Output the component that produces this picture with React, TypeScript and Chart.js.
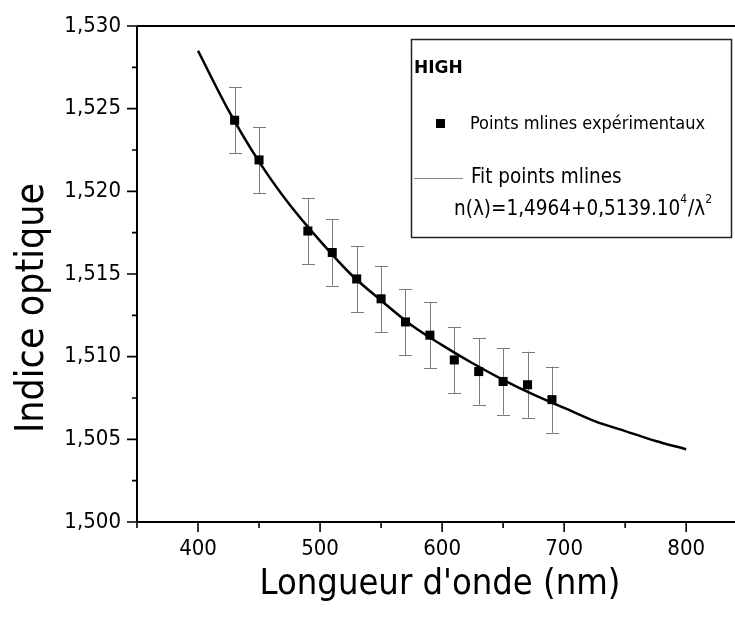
import React, { useEffect, useRef } from "react";
import { Chart, registerables } from "chart.js";

Chart.register(...registerables);

// Experimental points (wavelength nm, optical index, error)
const wavelengths = [430, 450, 490, 510, 530, 550, 570, 590, 610, 630, 650, 670, 690];
const indices = [1.5243, 1.5219, 1.5176, 1.5163, 1.5147, 1.5135, 1.5121, 1.5113, 1.5098, 1.5091, 1.5085, 1.5083, 1.5074];
const errors = [0.002, 0.002, 0.002, 0.002, 0.002, 0.002, 0.002, 0.002, 0.002, 0.002, 0.002, 0.002, 0.002];

// Fit curve
const fitWavelengths = [400, 425, 450, 475, 500, 525, 550, 575, 600, 625, 650, 675, 700, 725, 750, 775, 800];
const fitIndices = [1.5285, 1.5249, 1.5218, 1.5192, 1.517, 1.515, 1.5134, 1.5119, 1.5107, 1.5096, 1.5086, 1.5077, 1.5069, 1.5061, 1.5055, 1.5049, 1.5044];

// Axis ticks
const xMajorTicks = [400, 500, 600, 700, 800];
const xMinorTicks = [350, 450, 550, 650, 750];
const yMajorTicks = [1.5, 1.505, 1.51, 1.515, 1.52, 1.525, 1.53];
const yMinorTicks = [1.5025, 1.5075, 1.5125, 1.5175, 1.5225, 1.5275];

const xTitle = "Longueur d'onde (nm)";
const yTitle = "Indice optique";
const legendHeading = "HIGH";
const legendPoints = "Points mlines expérimentaux";
const legendFit = "Fit points mlines";
const legendEqParts = ["n(λ)=1,4964+0,5139.10", "4", "/λ", "2"];

const FONT = "'DejaVu Sans Condensed', 'DejaVu Sans', sans-serif";

const framePlugin = {
  id: "framePlugin",
  beforeDatasetsDraw(chart: any) {
    const ctx = chart.ctx;
    const xs = chart.scales.x;
    const ys = chart.scales.y;
    ctx.save();
    ctx.strokeStyle = "#7a7a7a";
    ctx.lineWidth = 1;
    wavelengths.forEach((w, i) => {
      const x = Math.round(xs.getPixelForValue(w)) + 0.5;
      const y1 = ys.getPixelForValue(indices[i] + errors[i]);
      const y2 = ys.getPixelForValue(indices[i] - errors[i]);
      ctx.beginPath();
      ctx.moveTo(x, y1);
      ctx.lineTo(x, y2);
      ctx.moveTo(x - 6.5, Math.round(y1) + 0.5);
      ctx.lineTo(x + 6.5, Math.round(y1) + 0.5);
      ctx.moveTo(x - 6.5, Math.round(y2) + 0.5);
      ctx.lineTo(x + 6.5, Math.round(y2) + 0.5);
      ctx.stroke();
    });
    ctx.restore();
  },
  afterDraw(chart: any) {
    const ctx = chart.ctx;
    const xs = chart.scales.x;
    const ys = chart.scales.y;
    const area = chart.chartArea;
    ctx.save();
    ctx.strokeStyle = "#000";
    ctx.lineWidth = 2;
    // frame: left, bottom, top
    ctx.beginPath();
    ctx.moveTo(area.left, area.top);
    ctx.lineTo(area.left, area.bottom);
    ctx.moveTo(area.left, area.bottom);
    ctx.lineTo(area.right, area.bottom);
    ctx.moveTo(area.left, area.top);
    ctx.lineTo(area.right, area.top);
    ctx.stroke();
    ctx.lineWidth = 1.6;
    ctx.beginPath();
    yMajorTicks.forEach((v) => {
      const y = ys.getPixelForValue(v);
      ctx.moveTo(area.left - 10, y);
      ctx.lineTo(area.left, y);
    });
    yMinorTicks.forEach((v) => {
      const y = ys.getPixelForValue(v);
      ctx.moveTo(area.left - 5, y);
      ctx.lineTo(area.left, y);
    });
    xMajorTicks.forEach((v) => {
      const x = xs.getPixelForValue(v);
      ctx.moveTo(x, area.bottom);
      ctx.lineTo(x, area.bottom + 10);
    });
    xMinorTicks.forEach((v) => {
      const x = xs.getPixelForValue(v);
      ctx.moveTo(x, area.bottom);
      ctx.lineTo(x, area.bottom + 6);
    });
    ctx.stroke();

    // axis titles
    ctx.fillStyle = "#000";
    ctx.font = `36px ${FONT}`;
    ctx.textAlign = "center";
    ctx.textBaseline = "alphabetic";
    ctx.fillText(xTitle, 440, 594);
    ctx.save();
    ctx.translate(43, 308);
    ctx.rotate(-Math.PI / 2);
    ctx.font = `39px ${FONT}`;
    ctx.fillText(yTitle, 0, 0);
    ctx.restore();

    // legend box
    ctx.fillStyle = "#fff";
    ctx.fillRect(411, 39, 321, 199);
    ctx.strokeStyle = "#222";
    ctx.lineWidth = 1.5;
    ctx.strokeRect(411.5, 39.5, 320, 198);
    ctx.fillStyle = "#000";
    ctx.textAlign = "left";
    ctx.textBaseline = "middle";
    ctx.font = `bold 17px 'DejaVu Sans', sans-serif`;
    ctx.fillText(legendHeading, 414, 69);
    ctx.fillRect(436, 119, 9, 9);
    ctx.font = `18px ${FONT}`;
    ctx.fillText(legendPoints, 470, 124);
    ctx.strokeStyle = "#8a8a8a";
    ctx.lineWidth = 1;
    ctx.beginPath();
    ctx.moveTo(414, 178.5);
    ctx.lineTo(463, 178.5);
    ctx.stroke();
    ctx.font = `20.5px ${FONT}`;
    ctx.fillText(legendFit, 471, 178);
    let ex = 454;
    const ey = 210;
    legendEqParts.forEach((part, i) => {
      const sup = i % 2 === 1;
      ctx.font = sup ? `12px ${FONT}` : `20.5px ${FONT}`;
      ctx.fillText(part, ex, sup ? ey - 10 : ey);
      ex += ctx.measureText(part).width + (sup ? 1 : 0);
    });
    ctx.restore();
  },
};

export default function App() {
  const ref = useRef<HTMLCanvasElement | null>(null);
  useEffect(() => {
    if (!ref.current) return;
    const chart = new Chart(ref.current, {
      type: "line",
      data: {
        datasets: [
          {
            label: legendFit,
            data: fitWavelengths.map((x, i) => ({ x, y: fitIndices[i] })),
            borderColor: "#000",
            borderWidth: 2.5,
            pointRadius: 0,
            tension: 0.4,
            cubicInterpolationMode: "monotone",
            fill: false,
          },
          {
            label: legendPoints,
            data: wavelengths.map((x, i) => ({ x, y: indices[i] })),
            showLine: false,
            pointStyle: "rect",
            pointRadius: 6.4,
            backgroundColor: "#000",
            borderColor: "#000",
            borderWidth: 0,
          },
        ],
      },
      options: {
        animation: false,
        responsive: false,
        devicePixelRatio: 1,
        layout: { autoPadding: false, padding: { top: 26, left: 0, right: 0, bottom: 0 } },
        plugins: { legend: { display: false }, tooltip: { enabled: false }, title: { display: false } },
        scales: {
          x: {
            type: "linear",
            min: 350,
            max: 840,
            grid: { display: false, drawTicks: false },
            border: { display: false },
            afterBuildTicks: (scale: any) => {
              scale.ticks = xMajorTicks.map((v) => ({ value: v }));
            },
            afterFit: (scale: any) => {
              scale.height = 106;
              scale.paddingLeft = 0;
              scale.paddingRight = 0;
            },
            ticks: {
              padding: 14,
              color: "#000",
              font: { family: FONT, size: 22 },
              maxRotation: 0,
              callback: (v: any) => String(v),
            },
          },
          y: {
            type: "linear",
            min: 1.5,
            max: 1.53,
            grid: { display: false, drawTicks: false },
            border: { display: false },
            afterBuildTicks: (scale: any) => {
              scale.ticks = yMajorTicks.map((v) => ({ value: v }));
            },
            afterFit: (scale: any) => {
              scale.width = 137;
              scale.paddingTop = 0;
              scale.paddingBottom = 0;
            },
            ticks: {
              padding: 16,
              color: "#000",
              font: { family: FONT, size: 22 },
              callback: (v: any) => Number(v).toFixed(3).replace(".", ","),
            },
          },
        },
      },
      plugins: [framePlugin],
    } as any);
    return () => chart.destroy();
  }, []);
  return (
    <div style={{ position: "fixed", left: 0, top: 0, width: 735, height: 628, background: "#fff" }}>
      <canvas ref={ref} width={735} height={628} style={{ width: 735, height: 628, display: "block" }} />
    </div>
  );
}
